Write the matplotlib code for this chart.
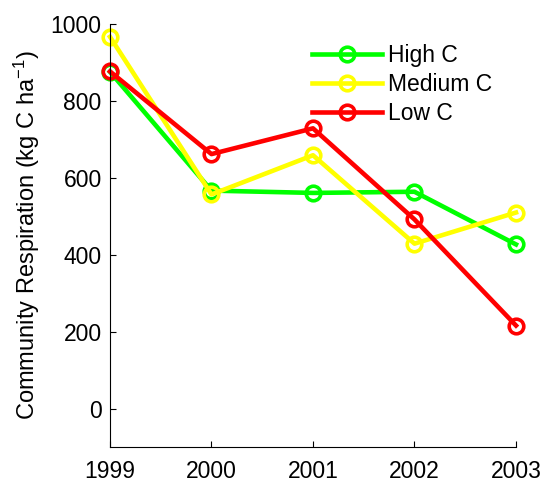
import matplotlib
matplotlib.use("Agg")
import matplotlib.pyplot as plt

plt.rcParams['font.family'] = ['Liberation Sans', 'DejaVu Sans']
plt.rcParams['mathtext.default'] = 'regular'

years = [1999, 2000, 2001, 2002, 2003]
high_c = [876, 567, 561, 564, 427]
medium_c = [967, 557, 659, 429, 510]
low_c = [877, 662, 729, 492, 216]
series = [("High C", high_c, (0, 1, 0)),
          ("Medium C", medium_c, (1, 1, 0)),
          ("Low C", low_c, (1, 0, 0))]

fig = plt.figure(figsize=(5.45, 4.83), dpi=100)
ax = fig.add_axes([0.2018, 0.0745, 0.745, 0.8755])

for name, vals, col in series:
    ax.plot(years, vals, color=col, lw=3.3, marker='o', ms=10.5,
            mfc='none', mec=col, mew=2.6, label=name, clip_on=False)

ax.set_xlim(1999, 2003)
ax.set_ylim(-100, 1000)
ax.set_xticks(years)
ax.set_yticks([0, 200, 400, 600, 800, 1000])
ax.tick_params(direction='in', length=4, width=0.8, labelsize=16.5)
ax.tick_params(axis='x', pad=9)
ax.tick_params(axis='y', pad=6)
for s in ['top', 'right']:
    ax.spines[s].set_visible(False)
ax.set_ylabel(r'Community Respiration (kg C ha$^{-1}$)', fontsize=17, labelpad=6)

ax.legend(loc='upper left', bbox_to_anchor=(312 / 545, 1 - 44 / 483),
          bbox_transform=fig.transFigure, frameon=False,
          fontsize=16.5, handlelength=3.05, labelspacing=0.27,
          handletextpad=0.25, borderaxespad=0, borderpad=0)

fig.savefig('out.png', dpi=100)
